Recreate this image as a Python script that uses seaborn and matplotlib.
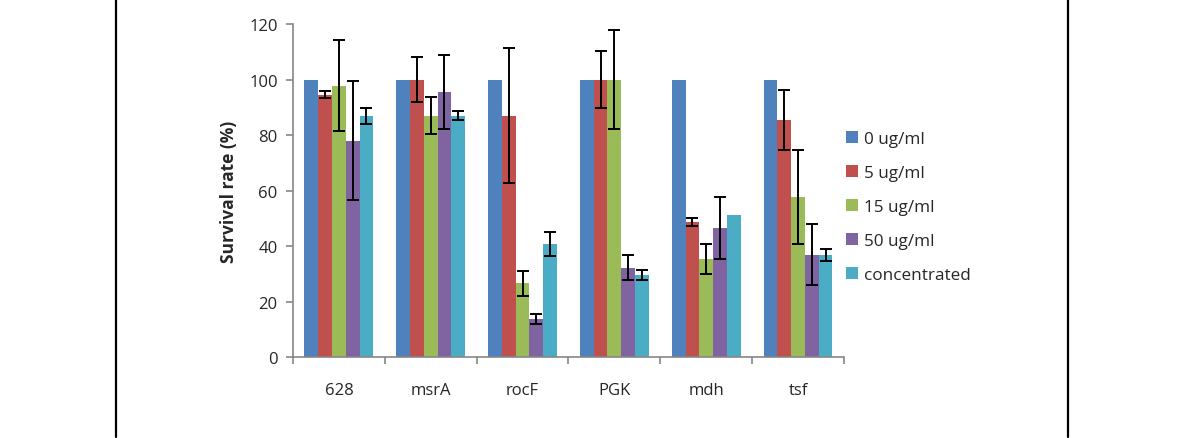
import numpy as np
import pandas as pd
import matplotlib
matplotlib.use("Agg")
import matplotlib.pyplot as plt
from matplotlib.lines import Line2D
import seaborn as sns

# survival data
genes = ["628", "msrA", "rocF", "PGK", "mdh", "tsf"]
series = ["0 ug/ml", "5 ug/ml", "15 ug/ml", "50 ug/ml", "concentrated"]
rate_0 = [100, 100, 100, 100, 100, 100]
rate_5 = [94.5, 100, 87, 100, 48.6, 85.5]
rate_15 = [97.8, 87, 26.5, 100, 35.3, 57.7]
rate_50 = [77.9, 95.6, 13.6, 32.1, 46.5, 36.8]
rate_conc = [87, 87, 40.8, 29.6, 51, 36.8]
err_0 = [0, 0, 0, 0, 0, 0]
err_5 = [1.2, 8.1, 24.2, 10.3, 1.4, 10.8]
err_15 = [16.3, 6.7, 4.4, 17.8, 5.4, 17]
err_50 = [21.4, 13.4, 1.8, 4.5, 11.2, 11]
err_conc = [2.9, 1.5, 4.3, 1.7, 0, 2.2]
colors = ["#4F81BD", "#C0504D", "#9BBB59", "#8064A2", "#4BACC6"]

rates = [rate_0, rate_5, rate_15, rate_50, rate_conc]
errs = [err_0, err_5, err_15, err_50, err_conc]

df = pd.DataFrame({
    "gene": np.tile(genes, len(series)),
    "dose": np.repeat(series, len(genes)),
    "rate": np.concatenate(rates),
})

sns.set_style("white")
plt.rcParams["font.family"] = ["Open Sans", "DejaVu Sans"]

fig = plt.figure(figsize=(11.9, 4.39), dpi=100)
ax = fig.add_axes([0.2462, 0.1845, 0.463, 0.7585])

sns.barplot(data=df, x="gene", y="rate", hue="dose", order=genes,
            hue_order=series, palette=colors, width=0.75, gap=0,
            errorbar=None, saturation=1, linewidth=0, ax=ax)

# error bars on top of the seaborn bars (skip the ones with no error)
for cont, e in zip(ax.containers, errs):
    xs, hs, es = [], [], []
    for b, v in zip(cont, e):
        if v > 0:
            xs.append(b.get_x() + b.get_width() / 2)
            hs.append(b.get_height())
            es.append(v)
    if xs:
        ax.errorbar(xs, hs, yerr=es, fmt="none", ecolor="black",
                    elinewidth=1.4, capsize=4.5, capthick=1.4)

ax.set_ylim(0, 120)
ax.set_xlim(-0.5, 5.5)
ax.set_yticks(range(0, 121, 20))
ax.set_xlabel("")
ax.set_ylabel("Survival rate (%)", fontsize=12.5, fontweight="bold", labelpad=8)

for s in ["top", "right"]:
    ax.spines[s].set_visible(False)
for s in ["left", "bottom"]:
    ax.spines[s].set_color("#868686")
    ax.spines[s].set_linewidth(1.2)

ax.set_xticks(np.arange(-0.5, 6, 1), minor=True)
ax.tick_params(axis="x", which="major", length=0, pad=18, labelsize=12,
               labelcolor="#262626")
ax.tick_params(axis="x", which="minor", length=5, width=1.2,
               color="#868686", direction="out", bottom=True)
ax.tick_params(axis="y", length=5, width=1.2, color="#868686",
               direction="out", left=True, labelsize=12, labelcolor="#262626",
               pad=6)

ax.legend(loc="center left", bbox_to_anchor=(1.0, 0.45), frameon=False,
          fontsize=12.3, handlelength=0.7, handleheight=0.7, handletextpad=0.4,
          labelspacing=1.05, borderaxespad=0, borderpad=0.1)

# outer frame lines of the original figure
fig.add_artist(Line2D([116 / 1190, 116 / 1190], [0.003, 1], color="black", lw=1.6))
fig.add_artist(Line2D([1068 / 1190, 1068 / 1190], [0.003, 1], color="black", lw=1.6))

fig.savefig("out.png", dpi=100)
